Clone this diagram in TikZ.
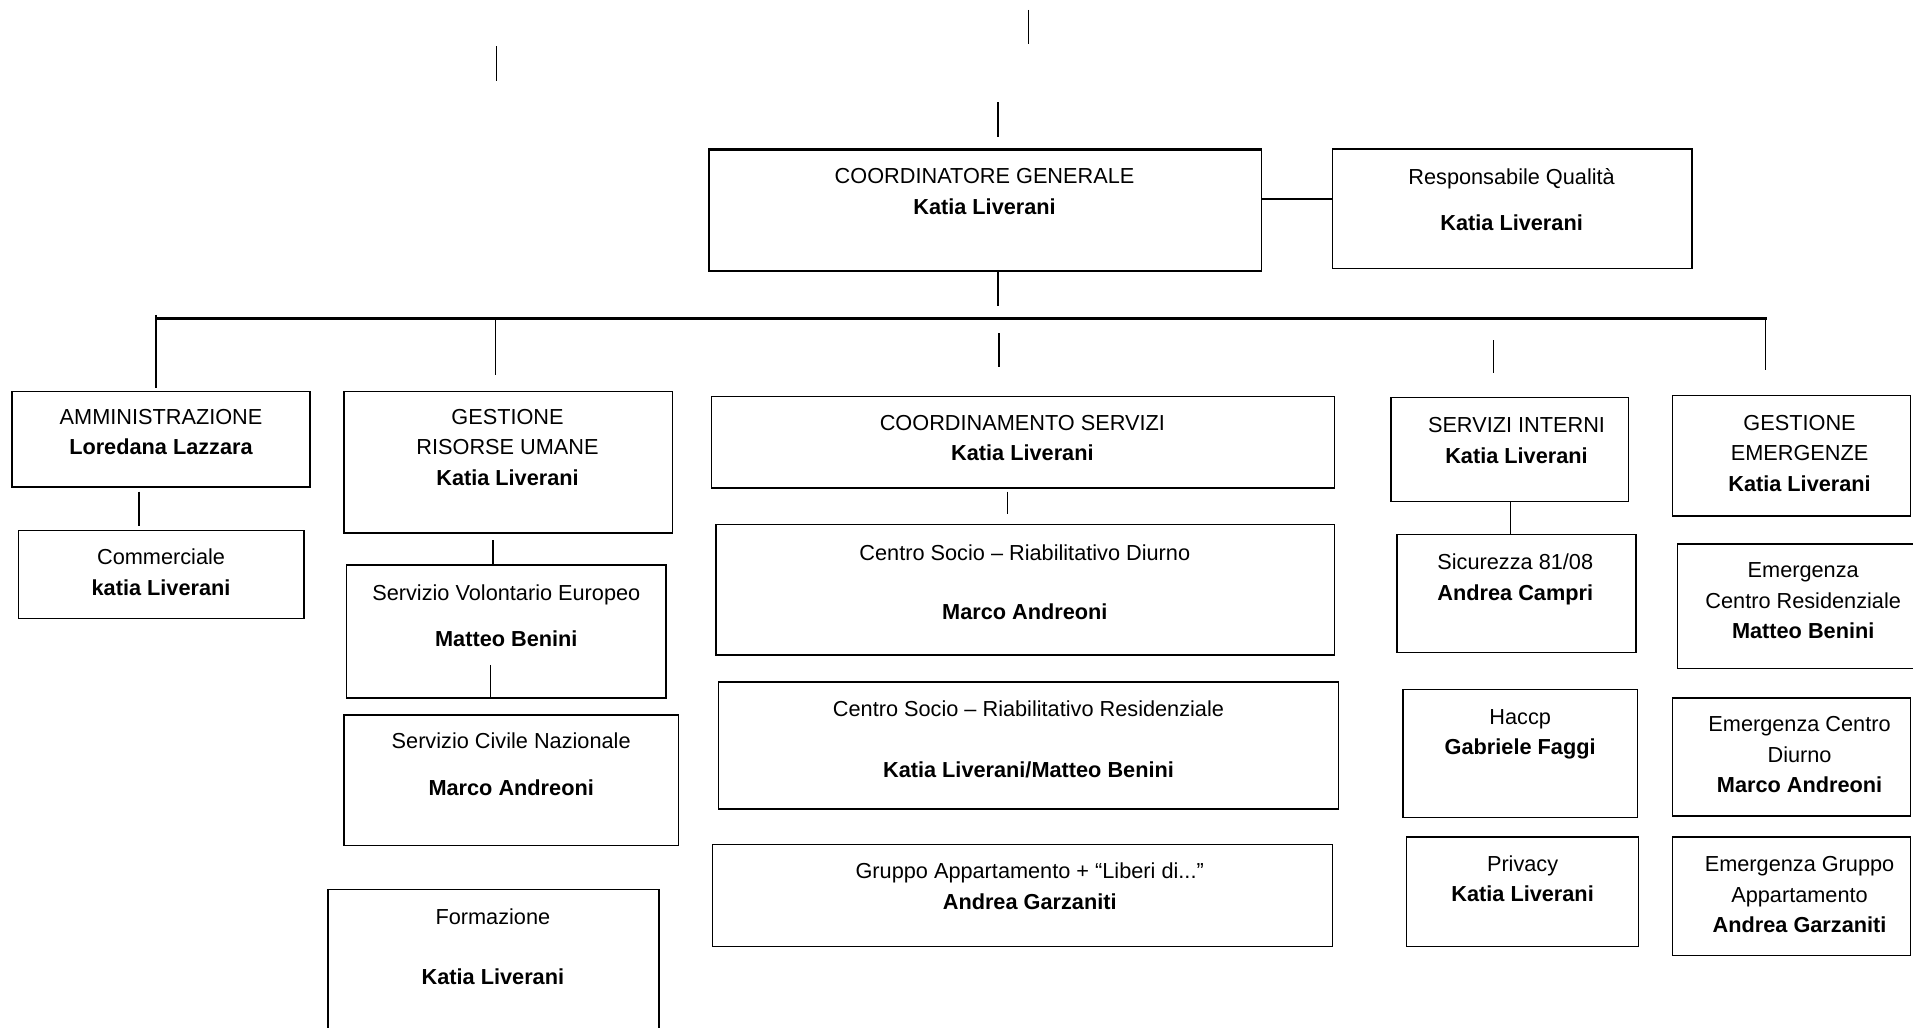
\documentclass[tikz,border=0pt]{standalone}
\usepackage{fontspec}
\setmainfont{Liberation Sans}
\newcommand\obox[5]{\node[obox, minimum width={(#4)-(#2)}, minimum height={(#5)-(#3)}] (#1) at ({((#2)+(#4))/2},{((#3)+(#5))/2}) {};}
\begin{document}
\begin{tikzpicture}[x=1pt,y=-1pt,
  obox/.style={draw, line width=1.2pt, inner sep=0pt, rectangle},
  txt/.style={align=center, anchor=north, font=\fontsize{17.8}{25}\selectfont, inner sep=0pt},
  conn/.style={line width=1.2pt}]
\useasboundingbox (0,0) rectangle (1568,842);
% boxes
\obox{cg}{581}{123}{1034}{222}
\obox{rq}{1092}{122}{1387}{220}
\obox{am}{10}{321}{254}{399}
\obox{co}{15}{435}{249}{507}
\obox{gr}{282}{321}{551}{437}
\obox{sv}{284}{463}{546}{572}
\obox{sc}{282}{586}{556}{693}
\obox{fo}{269}{729}{540}{848}
\obox{cs}{583}{325}{1094}{400}
\obox{cd}{587}{430}{1094}{537}
\obox{cr}{589}{559}{1097}{663}
\obox{ga}{584}{692}{1092}{776}
\obox{si}{1140}{326}{1335}{411}
\obox{sic}{1145}{438}{1341}{535}
\obox{hc}{1150}{565}{1342}{670}
\obox{pr}{1153}{686}{1343}{776}
\obox{ge}{1371}{324}{1566}{423}
\obox{e1}{1375}{446}{1572}{548}
\obox{e2}{1371}{572}{1566}{669}
\obox{e3}{1371}{686}{1566}{783}
\draw[line width=2.6pt] (cg.north west) -- (cg.north east);
% texts
\node[txt] (tcg) at (807,138) {COORDINATORE GENERALE\\\textbf{Katia Liverani}};
\node[txt] (trq) at (1239,138) {Responsabile Qualità\\[13pt]\textbf{Katia Liverani}};
\node[txt] (tam) at (132,335) {AMMINISTRAZIONE\\\textbf{Loredana Lazzara}};
\node[txt] (tco) at (132,450) {Commerciale\\\textbf{katia Liverani}};
\node[txt] (tgr) at (416,335) {GESTIONE\\RISORSE UMANE\\\textbf{Katia Liverani}};
\node[txt] (tsv) at (415,479) {Servizio Volontario Europeo\\[13pt]\textbf{Matteo Benini}};
\node[txt] (tsc) at (419,600) {Servizio Civile Nazionale\\[14pt]\textbf{Marco Andreoni}};
\node[txt] (tfo) at (404,745) {Formazione\\[24pt]\textbf{Katia Liverani}};
\node[txt] (tcs) at (838,340) {COORDINAMENTO SERVIZI\\\textbf{Katia Liverani}};
\node[txt] (tcd) at (840,446) {Centro Socio – Riabilitativo Diurno\\[24pt]\textbf{Marco Andreoni}};
\node[txt] (tcr) at (843,574) {Centro Socio – Riabilitativo Residenziale\\[25pt]\textbf{Katia Liverani/Matteo Benini}};
\node[txt] (tga) at (844,707) {Gruppo Appartamento + “Liberi di...”\\\textbf{Andrea Garzaniti}};
\node[txt] (tsi) at (1243,342) {SERVIZI INTERNI\\\textbf{Katia Liverani}};
\node[txt] (tsic) at (1242,454) {Sicurezza 81/08\\\textbf{Andrea Campri}};
\node[txt] (thc) at (1246,581) {Haccp\\\textbf{Gabriele Faggi}};
\node[txt] (tpr) at (1248,701) {Privacy\\\textbf{Katia Liverani}};
\node[txt] (tge) at (1475,340) {GESTIONE\\EMERGENZE\\\textbf{Katia Liverani}};
\node[txt] (te1) at (1478,461) {Emergenza\\Centro Residenziale\\\textbf{Matteo Benini}};
\node[txt] (te2) at (1475,587) {Emergenza Centro\\Diurno\\\textbf{Marco Andreoni}};
\node[txt] (te3) at (1475,702) {Emergenza Gruppo\\Appartamento\\\textbf{Andrea Garzaniti}};
% connector coordinates
\coordinate (a1) at (843,8);    \coordinate (a2) at (843,36);
\coordinate (b1) at (407,38);   \coordinate (b2) at (407,66);
\coordinate (c1) at (818,84);   \coordinate (c2) at (818,112);
\coordinate (d1) at (818,222);  \coordinate (d2) at (818,251);
\coordinate (h1) at (128,261);  \coordinate (h2) at (1448,261);
\coordinate (v1) at (128,258);  \coordinate (v1b) at (128,318);
\coordinate (v2) at (406,261);  \coordinate (v2b) at (406,307);
\coordinate (v3) at (819,273);  \coordinate (v3b) at (819,301);
\coordinate (v4) at (1224,279); \coordinate (v4b) at (1224,306);
\coordinate (v5) at (1447,261); \coordinate (v5b) at (1447,303);
\coordinate (m1) at (114,403);  \coordinate (m1b) at (114,431);
\coordinate (m2) at (404,443);  \coordinate (m2b) at (404,463);
\coordinate (m3) at (402,545);  \coordinate (m3b) at (402,572);
\coordinate (m4) at (826,403);  \coordinate (m4b) at (826,421);
\coordinate (m5) at (1238,411); \coordinate (m5b) at (1238,438);
% connectors
\draw[conn] (a1) -- (a2);
\draw[conn] (b1) -- (b2);
\draw[conn] (c1) -- (c2);
\draw[conn] (d1) -- (d2);
\draw[line width=2pt] (cg.east |- 0,163) -- (rq.west |- 0,163);
\draw[line width=2pt] (h1) -- (h2);
\draw[conn] (v1) -- (v1b);
\draw[conn] (v2) -- (v2b);
\draw[conn] (v3) -- (v3b);
\draw[conn] (v4) -- (v4b);
\draw[conn] (v5) -- (v5b);
\draw[conn] (m1) -- (m1b);
\draw[conn] (m2) -- (m2b);
\draw[conn] (m3) -- (m3b);
\draw[conn] (m4) -- (m4b);
\draw[conn] (m5) -- (m5b);
\end{tikzpicture}
\end{document}
